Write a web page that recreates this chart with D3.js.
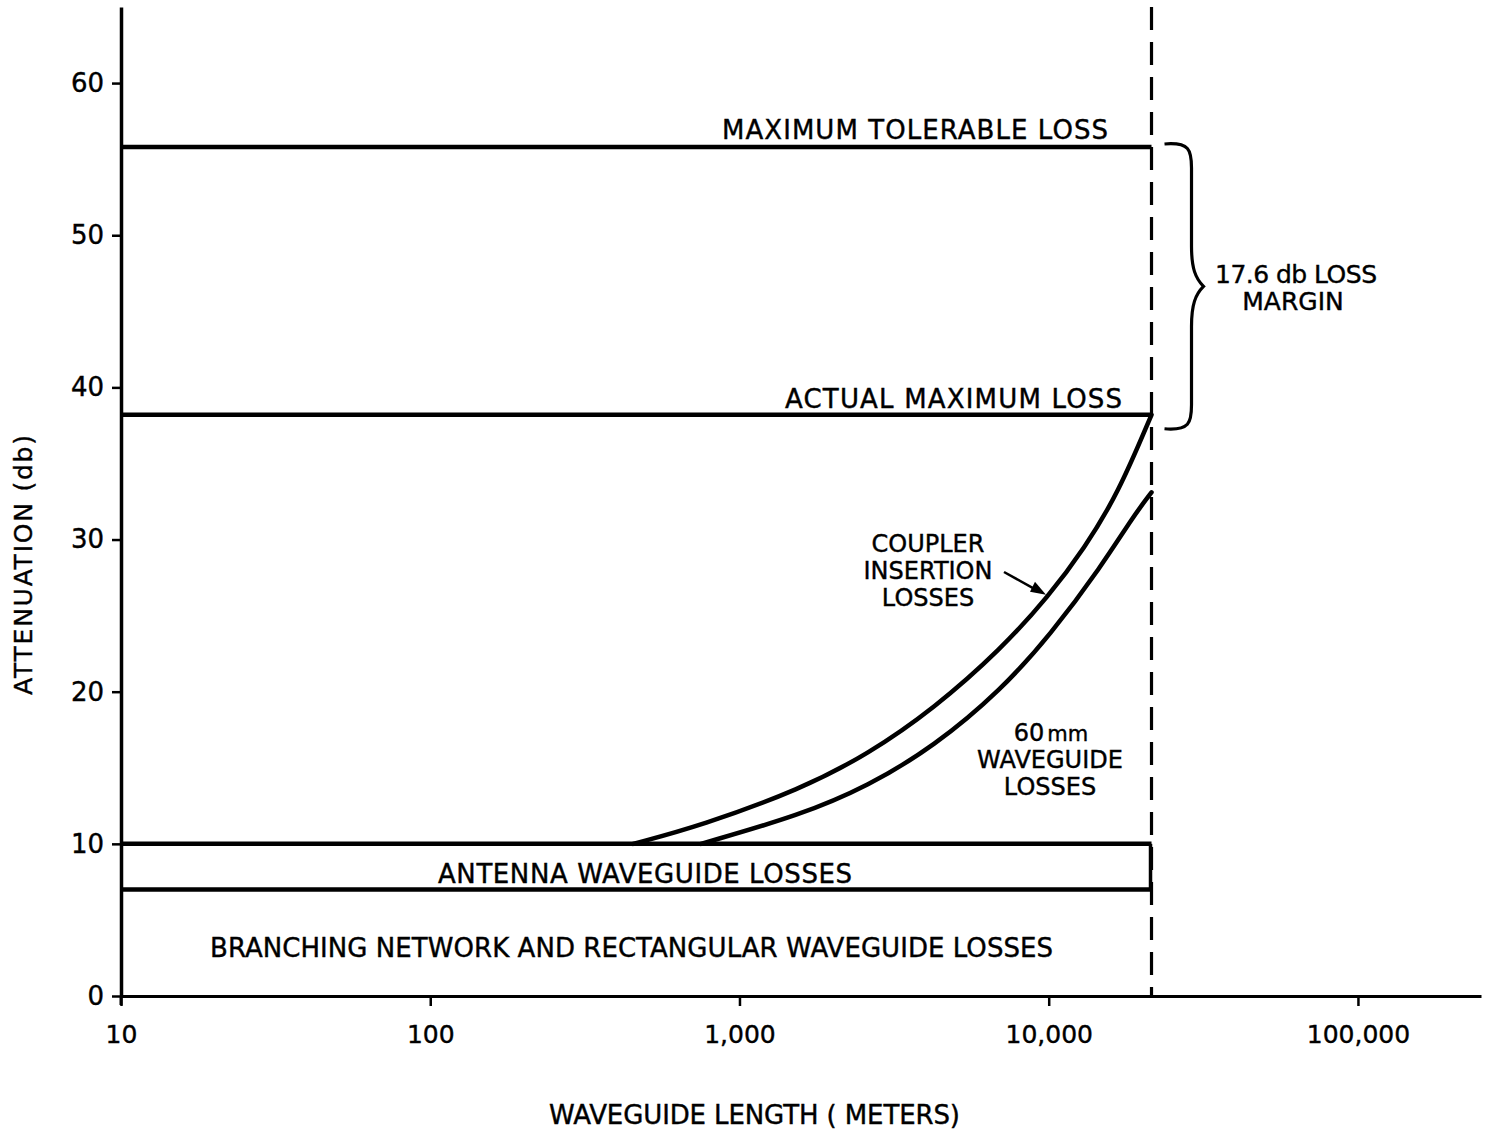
<!DOCTYPE html>
<html>
<head>
<meta charset="utf-8">
<script src="https://cdn.jsdelivr.net/npm/d3@7"></script>
<style>
  html, body { margin: 0; padding: 0; background: #fff; }
  svg { display: block; }
  text { font-family: "DejaVu Sans", "Liberation Sans", sans-serif; fill: #000; stroke: #000; stroke-width: 0.4px; }
</style>
</head>
<body>
<svg id="chart" width="1493" height="1134"></svg>
<script>
// Waveguide length axis (meters, log scale)
const xTickValues = [10, 100, 1000, 10000, 100000];
const xTickLabels = ["10", "100", "1,000", "10,000", "100,000"];
// Attenuation axis (db)
const yTickValues = [0, 10, 20, 30, 40, 50, 60];

// Longest waveguide run considered (meters)
const maxLength = 21500;

// Cumulative loss levels (db)
const branchingLoss = 7.0;       // branching network + rectangular waveguide
const antennaLoss = 10.0;        // + antenna waveguide
const actualMaxLoss = 38.2;      // total at the longest run
const tolerableLoss = 55.8;      // system limit
const lossMarginLabel = "17.6 db LOSS";

// 60 mm waveguide losses (cumulative) vs length
const waveguideLengths = [751, 1581, 2606, 4258, 7015, 10180, 14760, 18880, 21500];
const waveguideTotals  = [10.0, 11.9, 13.8, 16.4, 20.1, 23.8, 28.2, 31.6, 33.1];

// Coupler insertion losses added on top (cumulative) vs length
const couplerLengths = [453, 751, 1581, 2606, 4258, 7015, 10020, 13010, 16750, 21500];
const couplerTotals  = [10.0, 11.2, 13.6, 15.9, 18.9, 22.8, 26.3, 29.4, 33.0, 38.2];

const svg = d3.select("#chart");

const x = d3.scaleLog().domain([10, 250000]).range([121, 1481]);
const y = d3.scaleLinear().domain([0, 65]).range([996, 7]);

const ink = "#000";

// Axes
const xAxis = d3.axisBottom(x).tickValues(xTickValues)
  .tickFormat((d, i) => xTickLabels[i]).tickSizeInner(10).tickSizeOuter(0).tickPadding(19);
const yAxis = d3.axisLeft(y).tickValues(yTickValues)
  .tickFormat(d3.format("d")).tickSizeInner(9).tickSizeOuter(0).tickPadding(8);

const gx = svg.append("g").attr("transform", `translate(0,${y(0)})`).call(xAxis);
gx.select(".domain").attr("stroke", ink).attr("stroke-width", 3);
gx.selectAll(".tick line").attr("stroke", ink).attr("stroke-width", 2.5);
gx.selectAll(".tick text").attr("font-size", 25).attr("fill", ink);

const gy = svg.append("g").attr("transform", `translate(${x(10)},0)`).call(yAxis);
gy.select(".domain").attr("stroke", ink).attr("stroke-width", 3.5);
gy.selectAll(".tick line").attr("stroke", ink).attr("stroke-width", 2.5);
gy.selectAll(".tick text").attr("font-size", 26).attr("fill", ink);

// Y axis runs a little below the x axis at the origin
svg.append("line")
  .attr("x1", x(10)).attr("x2", x(10))
  .attr("y1", y(0)).attr("y2", y(0) + 9)
  .attr("stroke", ink).attr("stroke-width", 3);

// Vertical dashed limit at the longest run
svg.append("line")
  .attr("x1", x(maxLength)).attr("x2", x(maxLength))
  .attr("y1", y(65)).attr("y2", y(0))
  .attr("stroke", ink).attr("stroke-width", 3.2)
  .attr("stroke-dasharray", "23,12");

// Horizontal loss levels
const levels = [branchingLoss, antennaLoss, actualMaxLoss, tolerableLoss];
svg.selectAll("line.level").data(levels).enter().append("line")
  .attr("class", "level")
  .attr("x1", x(10)).attr("x2", x(maxLength))
  .attr("y1", d => y(d)).attr("y2", d => y(d))
  .attr("stroke", ink).attr("stroke-width", 4.5);

// Right edge of the antenna waveguide band
svg.append("line")
  .attr("x1", x(maxLength) - 1).attr("x2", x(maxLength) - 1)
  .attr("y1", y(antennaLoss)).attr("y2", y(branchingLoss))
  .attr("stroke", ink).attr("stroke-width", 3.5);

// Loss curves
const curve = d3.line().x(d => x(d[0])).y(d => y(d[1])).curve(d3.curveBasis);
const waveguidePts = waveguideLengths.map((l, i) => [l, waveguideTotals[i]]);
const couplerPts = couplerLengths.map((l, i) => [l, couplerTotals[i]]);
[waveguidePts, couplerPts].forEach(pts => {
  svg.append("path").attr("d", curve(pts))
    .attr("fill", "none").attr("stroke", ink)
    .attr("stroke-width", 4.5).attr("stroke-linecap", "round");
});

// Brace spanning the loss margin
const bx = x(maxLength) + 13, by0 = y(tolerableLoss) - 3, by1 = y(actualMaxLoss) + 14;
const bm = (by0 + by1) / 2;
const spine = bx + 27;
svg.append("path")
  .attr("d", `M${bx},${by0} C${spine - 2},${by0 - 2} ${spine},${by0 + 6} ${spine},${by0 + 24}
    L${spine},${bm - 40} C${spine},${bm - 18} ${spine + 4},${bm - 8} ${spine + 12},${bm}
    C${spine + 4},${bm + 8} ${spine},${bm + 18} ${spine},${bm + 40}
    L${spine},${by1 - 24} C${spine},${by1 - 6} ${spine - 2},${by1 + 2} ${bx},${by1}`)
  .attr("fill", "none").attr("stroke", ink).attr("stroke-width", 3.2);

// Text labels
function label(txt, px, py, len, anchor, size) {
  const t = svg.append("text").attr("x", px).attr("y", py)
    .attr("font-size", size || 26).attr("text-anchor", anchor || "start").text(txt);
  if (len) t.attr("textLength", len).attr("lengthAdjust", "spacing");
  return t;
}

// Stacked label: one text element, one tspan per line
function stacked(lines, cx, firstBaseline, lineStep, size) {
  const t = svg.append("text").attr("x", cx).attr("y", firstBaseline)
    .attr("font-size", size || 24).attr("text-anchor", "middle");
  lines.forEach((ln, i) => {
    t.append("tspan").attr("x", cx).attr("dy", i === 0 ? 0 : lineStep).text(ln);
  });
  return t;
}

label("MAXIMUM TOLERABLE LOSS", 722, 139, 386);
label("ACTUAL MAXIMUM LOSS", 785, 408, 337);
const margin = svg.append("text").attr("x", 1215).attr("y", 283).attr("font-size", 25);
margin.append("tspan").attr("textLength", 162).attr("lengthAdjust", "spacing").text(lossMarginLabel);
margin.append("tspan").attr("x", 1293).attr("dy", 27).attr("text-anchor", "middle").text("MARGIN");

stacked(["COUPLER", "INSERTION", "LOSSES"], 928, 552, 27, 24);

const wg = svg.append("text").attr("x", 1051).attr("y", 741)
  .attr("font-size", 24).attr("text-anchor", "middle");
const first = wg.append("tspan").attr("x", 1051);
first.append("tspan").text("60");
first.append("tspan").attr("font-size", 21).attr("dx", 3).text("mm");
wg.append("tspan").attr("x", 1050).attr("dy", 27).text("WAVEGUIDE");
wg.append("tspan").attr("x", 1050).attr("dy", 27).text("LOSSES");

label("ANTENNA WAVEGUIDE LOSSES", 438, 883, 414);
label("BRANCHING NETWORK AND RECTANGULAR WAVEGUIDE LOSSES", 210, 957, 843);
label("WAVEGUIDE LENGTH ( METERS)", 549, 1124, 411);
svg.append("text")
  .attr("transform", `translate(32,565) rotate(-90)`)
  .attr("text-anchor", "middle").attr("font-size", 25)
  .attr("textLength", 260).attr("lengthAdjust", "spacing")
  .text("ATTENUATION (db)");

// Arrow pointing to the coupler curve
const arrowTip = [x(10020) - 3, y(26.3) - 1];
svg.append("line")
  .attr("x1", 1004).attr("y1", 572)
  .attr("x2", arrowTip[0] - 8).attr("y2", arrowTip[1] - 4)
  .attr("stroke", ink).attr("stroke-width", 2.5);
svg.append("path")
  .attr("d", `M${arrowTip[0]},${arrowTip[1]} l-16,-3 l5,-10 Z`)
  .attr("fill", ink);
</script>
</body>
</html>
